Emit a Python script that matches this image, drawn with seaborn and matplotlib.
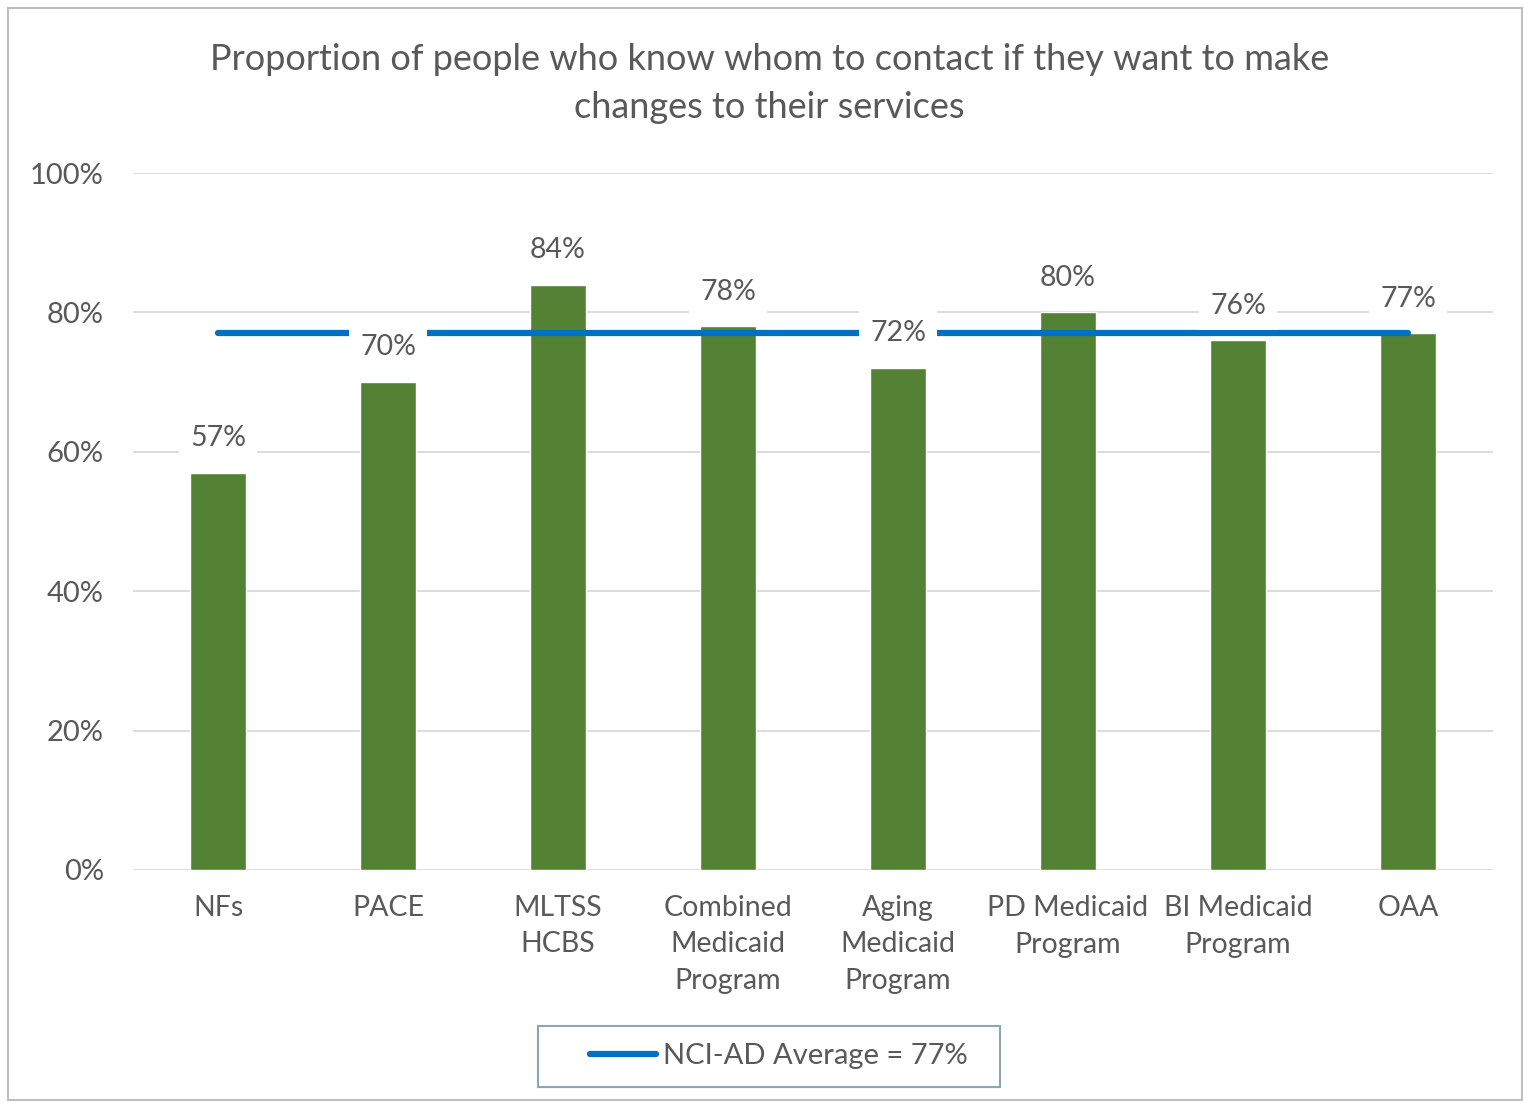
import matplotlib
matplotlib.use("Agg")
import matplotlib.pyplot as plt
from matplotlib.patches import Rectangle
from matplotlib.lines import Line2D
from matplotlib.legend_handler import HandlerLine2D
import seaborn as sns
import pandas as pd

categories = ["NFs", "PACE", "MLTSS\nHCBS", "Combined\nMedicaid\nProgram",
              "Aging\nMedicaid\nProgram", "PD Medicaid\nProgram",
              "BI Medicaid\nProgram", "OAA"]
values = [57, 70, 84, 78, 72, 80, 76, 77]
average = 77
yticks = [0, 20, 40, 60, 80, 100]

sns.set_theme(style="white")
plt.rcParams["font.family"] = ["Lato", "DejaVu Sans"]
TXT = "#595959"


class InsetLineHandler(HandlerLine2D):
    """Legend line drawn over the right part of the handle box only."""

    def create_artists(self, legend, orig_handle, xdescent, ydescent,
                       width, height, fontsize, trans):
        y = (height - ydescent) / 2
        x0 = -xdescent + width * 0.33
        x1 = width - xdescent - 4
        line = Line2D([x0, x1], [y, y], color=orig_handle.get_color(),
                      linewidth=orig_handle.get_linewidth(),
                      solid_capstyle="round", transform=trans)
        return [line]


df = pd.DataFrame({"program": categories, "pct": values})

fig = plt.figure(figsize=(15.24, 11.03), dpi=100)
ax = fig.add_axes([133 / 1524, 1 - 870 / 1103, 1360 / 1524, 697 / 1103])

sns.barplot(data=df, x="program", y="pct", color="#548235", width=0.33,
            saturation=1, ax=ax, zorder=2)

ax.set_xlim(-0.5, len(categories) - 0.5)
ax.set_ylim(0, 100)
ax.set_yticks(yticks)
ax.set_yticklabels([f"{t}%" for t in yticks], color=TXT, fontsize=21)
ax.yaxis.grid(True, color="#d9d9d9", linewidth=1.3, zorder=0)
ax.set_axisbelow(True)
for s in ax.spines.values():
    s.set_visible(False)
ax.tick_params(axis="y", length=0, pad=21)
ax.tick_params(axis="x", length=0, pad=18)
ax.set_xticks(range(len(categories)))
ax.set_xticklabels(categories, color=TXT, fontsize=20.5, linespacing=1.5, va="top")
ax.set_xlabel("")
ax.set_ylabel("")

# Average reference line across the programs
avg_line, = ax.plot([0, len(categories) - 1], [average, average], color="#0070C0",
                    linewidth=4.5, solid_capstyle="round", zorder=3)

# Value labels with white boxes over the line and gridlines
for i, v in enumerate(values):
    ax.annotate(f"{v}%", xy=(i, v), xytext=(0, 25), textcoords="offset points",
                ha="center", va="center", fontsize=20.5, color=TXT, zorder=4,
                bbox=dict(boxstyle="square,pad=0.4", fc="white", ec="none"))

fig.text(0.505, 1 - 60 / 1103, "Proportion of people who know whom to contact if they want to make",
         ha="center", va="center", fontsize=26, color=TXT)
fig.text(0.505, 1 - 108 / 1103, "changes to their services",
         ha="center", va="center", fontsize=26, color=TXT)

leg = fig.legend([avg_line], [f"NCI-AD Average = {average}%  "],
                 loc="center", bbox_to_anchor=(769 / 1524, 1 - 1056 / 1103),
                 fontsize=21, frameon=True, fancybox=False, handlelength=3.65,
                 handletextpad=0.05, borderpad=0.6, borderaxespad=0,
                 handler_map={Line2D: InsetLineHandler()})
leg.get_frame().set_edgecolor("#6f9393")
leg.get_frame().set_linewidth(1.5)
for t in leg.get_texts():
    t.set_color(TXT)

fig.patches.append(Rectangle((8 / 1524, 3 / 1103), 1514 / 1524, 1092 / 1103,
                             transform=fig.transFigure, fill=False,
                             edgecolor="#bfbfbf", linewidth=1.5))

fig.savefig("out.png", dpi=100)
